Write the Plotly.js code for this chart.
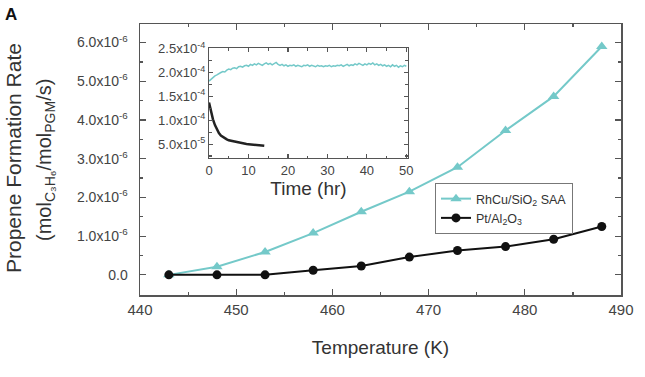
<!DOCTYPE html>
<html>
<head>
<meta charset="utf-8">
<script src="https://cdn.plot.ly/plotly-3.0.1.min.js"></script>
<style>html,body{margin:0;padding:0;background:#fff;}#plot{width:645px;height:377px;}</style>
</head>
<body>
<div id="plot"></div>
<script>
// ---- Main panel data (rate in units of 1e-6 mol_C3H6/mol_PGM/s) ----
const temperatureK = [443, 448, 453, 458, 463, 468, 473, 478, 483, 488];
const rhcuRate_e6 = [0.00, 0.21, 0.59, 1.08, 1.63, 2.15, 2.78, 3.73, 4.61, 5.90];
const ptRate_e6   = [0.00, 0.00, 0.00, 0.12, 0.23, 0.46, 0.63, 0.73, 0.92, 1.25];
const mainYTickVals_e6 = [0, 1, 2, 3, 4, 5, 6];
const mainYTickText = ['0.0', '1.0x10<sup>-6</sup>', '2.0x10<sup>-6</sup>', '3.0x10<sup>-6</sup>',
                       '4.0x10<sup>-6</sup>', '5.0x10<sup>-6</sup>', '6.0x10<sup>-6</sup>'];

// ---- Inset data (rate in units of 1e-4) ----
const insetTimeRh = [0,0.5,1,1.5,2,2.5,3,3.5,4,4.5,5,5.5,6,6.5,7,7.5,8,8.5,9,9.5,10,
  10.5,11,11.5,12,12.5,13,13.5,14,14.5,15,15.5,16,16.5,17,17.5,18,18.5,19,19.5,20,
  20.5,21,21.5,22,22.5,23,23.5,24,24.5,25,25.5,26,26.5,27,27.5,28,28.5,29,29.5,30,
  30.5,31,31.5,32,32.5,33,33.5,34,34.5,35,35.5,36,36.5,37,37.5,38,38.5,39,39.5,40,
  40.5,41,41.5,42,42.5,43,43.5,44,44.5,45,45.5,46,46.5,47,47.5,48,48.5,49,49.5,50];
const insetRh_e4 = [1.82,1.86,1.90,1.93,1.95,1.98,2.00,2.02,2.01,2.05,2.07,2.06,2.09,2.10,2.08,2.12,2.13,2.11,2.14,2.15,2.13,
  2.17,2.15,2.18,2.16,2.19,2.17,2.15,2.18,2.20,2.17,2.19,2.16,2.18,2.21,2.17,2.15,2.17,2.14,2.16,2.13,
  2.15,2.14,2.16,2.13,2.15,2.14,2.12,2.15,2.14,2.16,2.13,2.15,2.14,2.12,2.15,2.13,2.14,2.12,2.14,2.13,
  2.15,2.12,2.14,2.13,2.15,2.14,2.16,2.13,2.15,2.17,2.14,2.16,2.15,2.18,2.16,2.19,2.17,2.15,2.18,2.16,
  2.19,2.17,2.20,2.16,2.18,2.15,2.17,2.14,2.16,2.13,2.15,2.12,2.16,2.13,2.15,2.11,2.14,2.12,2.15,2.13];
const insetTimePt = [0,0.5,1,1.5,2,2.5,3,3.5,4,4.5,5,5.5,6,6.5,7,7.5,8,8.5,9,9.5,10,10.5,11,11.5,12,12.5,13,13.5,14];
const insetPt_e4 = [1.37,1.18,1.02,0.90,0.80,0.73,0.68,0.65,0.62,0.60,0.58,0.57,0.56,0.55,0.54,0.53,0.525,0.52,0.51,0.505,0.50,0.495,0.49,0.485,0.48,0.475,0.47,0.47,0.465];
const insetYTickVals_e4 = [0.5, 1.0, 1.5, 2.0, 2.5];
const insetYTickText = ['5.0x10<sup>-5</sup>', '1.0x10<sup>-4</sup>', '1.5x10<sup>-4</sup>', '2.0x10<sup>-4</sup>', '2.5x10<sup>-4</sup>'];

const e6 = v => v * 1e-6, e4 = v => v * 1e-4;
const CYAN = '#74c9c9';
const AX = '#555555';
const FONT = 'Liberation Sans, Arial, sans-serif';

const traces = [
  {x: temperatureK, y: rhcuRate_e6.map(e6), type: 'scatter', mode: 'lines+markers',
   name: 'RhCu/SiO<sub>2</sub> SAA', line: {color: CYAN, width: 2},
   marker: {symbol: 'triangle-up', size: 10, color: CYAN}, xaxis: 'x', yaxis: 'y'},
  {x: temperatureK, y: ptRate_e6.map(e6), type: 'scatter', mode: 'lines+markers',
   name: 'Pt/Al<sub>2</sub>O<sub>3</sub>', line: {color: '#111', width: 2},
   marker: {symbol: 'circle', size: 9, color: '#111'}, xaxis: 'x', yaxis: 'y'},
  {x: insetTimeRh, y: insetRh_e4.map(e4), type: 'scatter', mode: 'lines', showlegend: false,
   line: {color: CYAN, width: 1.5}, xaxis: 'x2', yaxis: 'y2'},
  {x: insetTimePt, y: insetPt_e4.map(e4), type: 'scatter', mode: 'lines', showlegend: false,
   line: {color: '#222', width: 2.5}, xaxis: 'x2', yaxis: 'y2'}
];

const axisCommon = {
  showgrid: false, zeroline: false, ticks: 'inside', mirror: 'ticks',
  linecolor: AX, linewidth: 1.5, tickcolor: AX, tickwidth: 1.2, showline: true
};

const layout = {
  width: 645, height: 377,
  margin: {l: 140, r: 24, t: 24, b: 82},
  paper_bgcolor: '#fff', plot_bgcolor: '#fff',
  font: {family: FONT, color: '#444'},
  showlegend: true,
  legend: {x: (435 - 140) / 481, y: (295 - 183) / 271, xanchor: 'left', yanchor: 'top',
           bordercolor: '#777', borderwidth: 1, bgcolor: '#fff',
           font: {size: 12.5, color: '#333', family: FONT}, itemwidth: 30,
           tracegroupgap: 0},
  xaxis: Object.assign({}, axisCommon, {
    range: [440, 490], dtick: 10, tick0: 440, ticklen: 6,
    tickfont: {size: 15, color: '#444'},
    minor: {dtick: 5, ticks: 'inside', ticklen: 3, tickcolor: AX},
    title: {text: 'Temperature (K)', font: {size: 19, color: '#333'}, standoff: 24}
  }),
  yaxis: Object.assign({}, axisCommon, {
    range: [-0.52e-6, 6.48e-6], tickvals: mainYTickVals_e6.map(e6), ticktext: mainYTickText,
    ticklen: 6, tickfont: {size: 14, color: '#444'}, ticklabelstandoff: 8,
    minor: {dtick: 0.5e-6, ticks: 'inside', ticklen: 3, tickcolor: AX}
  }),
  xaxis2: Object.assign({}, axisCommon, {
    domain: [0.1435, 0.557], anchor: 'y2', range: [0, 50.4], dtick: 10, tick0: 0,
    ticklen: 4, linewidth: 1.2, tickfont: {size: 13, color: '#444'},
    minor: {dtick: 5, ticks: 'inside', ticklen: 2.5, tickcolor: AX},
    title: {text: 'Time (hr)', font: {size: 19, color: '#333'}, standoff: 2}
  }),
  yaxis2: Object.assign({}, axisCommon, {
    domain: [0.5055, 0.911], anchor: 'x2', range: [0.21e-4, 2.51e-4],
    tickvals: insetYTickVals_e4.map(e4), ticktext: insetYTickText,
    ticklen: 4, linewidth: 1.2, tickfont: {size: 13, color: '#444'},
    minor: {dtick: 0.25e-4, ticks: 'inside', ticklen: 2.5, tickcolor: AX}
  }),
  annotations: [
    {text: 'Propene Formation Rate', xref: 'paper', yref: 'paper',
     x: (13 - 140) / 481, y: (295 - 158) / 271, xanchor: 'center', yanchor: 'middle',
     textangle: -90, showarrow: false, font: {size: 21, color: '#333', family: FONT}},
    {text: '(mol<sub>C₃H₆</sub>/mol<sub>PGM</sub>/s)', xref: 'paper', yref: 'paper',
     x: (45 - 140) / 481, y: (295 - 160) / 271, xanchor: 'center', yanchor: 'middle',
     textangle: -90, showarrow: false, font: {size: 20, color: '#333', family: FONT}},
    {text: '<b>A</b>', xref: 'paper', yref: 'paper',
     x: (3 - 140) / 481, y: (295 - 3) / 271, xanchor: 'left', yanchor: 'top',
     showarrow: false, font: {size: 17, color: '#111', family: FONT}}
  ]
};

Plotly.newPlot('plot', traces, layout, {displayModeBar: false, staticPlot: true});
</script>
</body>
</html>
